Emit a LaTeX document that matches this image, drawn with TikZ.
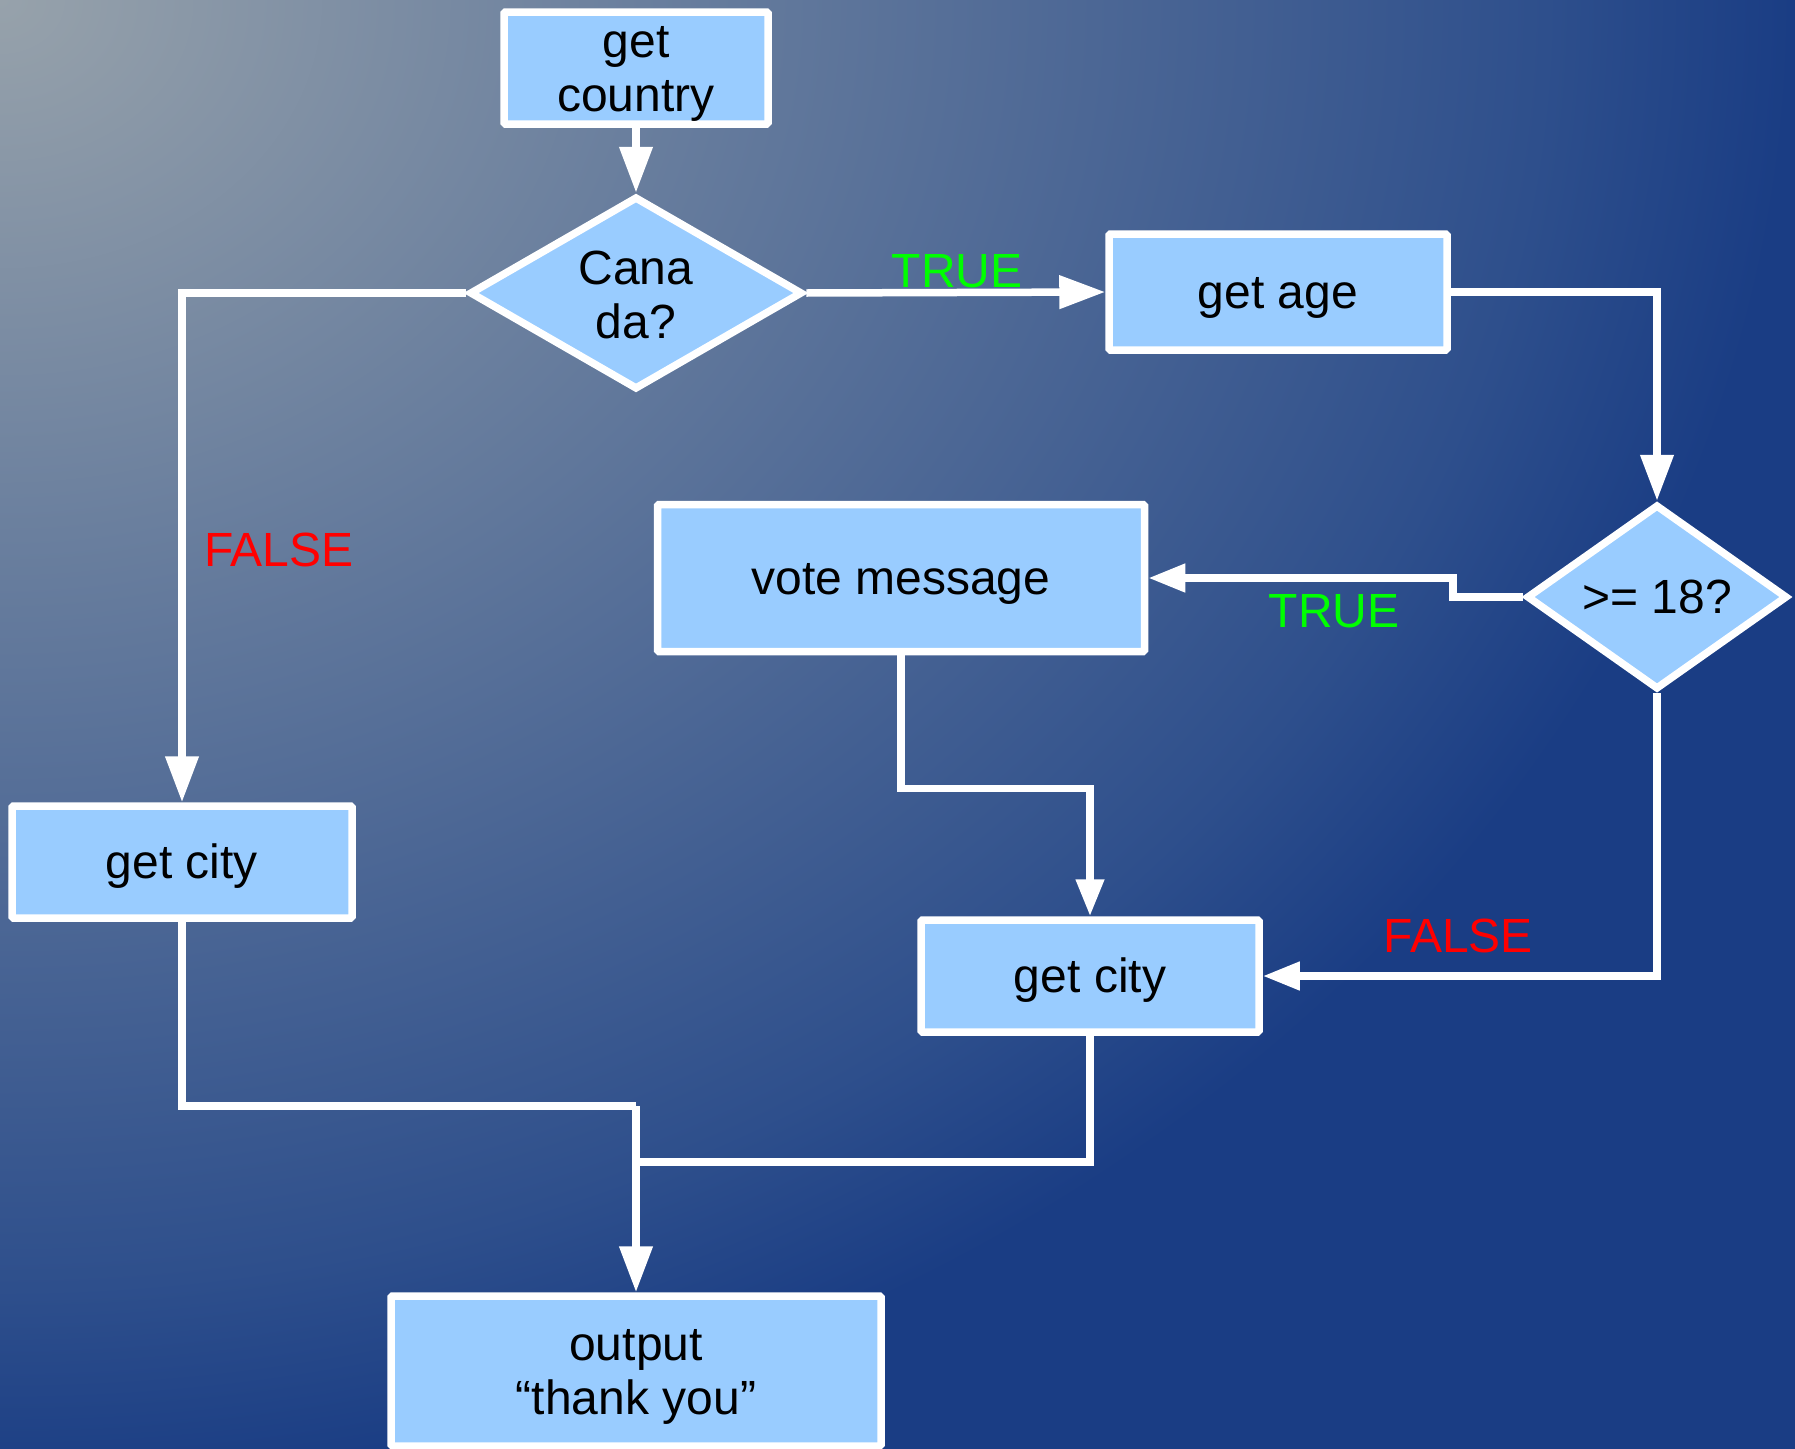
\documentclass[tikz,border=0pt]{standalone}
\usepackage{fontspec}
\setmainfont{Liberation Sans}
\usetikzlibrary{shapes.geometric,arrows.meta}
\definecolor{bgA}{HTML}{97A2AB}
\definecolor{bgB}{HTML}{6A7F9E}
\definecolor{bgC}{HTML}{2E4F8C}
\definecolor{bgD}{HTML}{1A3D84}
\definecolor{boxfill}{HTML}{99CCFF}
\definecolor{truegreen}{HTML}{00FF00}
\definecolor{falsered}{HTML}{FF0000}
\pgfdeclareradialshading{bgshade}{\pgfpoint{0bp}{0bp}}{color(0bp)=(bgA); color(5.74bp)=(bgB); color(13.8bp)=(bgC); color(16bp)=(bgD); color(25bp)=(bgD); color(50bp)=(bgD)}
\newcommand{\btxt}[1]{\raisebox{-6pt}[\height][\depth]{\begin{tabular}{@{}c@{}}#1\end{tabular}}}
\tikzset{
  box/.style={draw=white, fill=boxfill, line width=7.5pt, rounded corners=1.5pt, inner sep=0pt, font=\fontsize{48}{54}\selectfont, text=black},
  dia/.style={draw=white, fill=boxfill, line width=7.5pt, diamond, inner sep=0pt},
  txt/.style={inner sep=0pt, align=center, font=\fontsize{48}{54}\selectfont, text=black},
  lbl/.style={inner sep=0pt, anchor=base, font=\fontsize{48}{54}\selectfont},
  conn/.style={draw=white, line width=7.5pt},
  bigarrow/.style={conn, -{Triangle[length=46pt,width=32pt]}},
  smallarrow/.style={conn, -{Triangle[length=37pt,width=27pt]}}
}
\begin{document}
\begin{tikzpicture}[x=1pt,y=-1pt]
\useasboundingbox (0,0) rectangle (1795,1448);
\begin{scope}
\clip (0,0) rectangle (1795,1448);
\shade[shading=bgshade] (0,0) ellipse (2800 and 2333);
\end{scope}
% nodes
\node[box, minimum width=264pt, minimum height=112pt] (country) at (636,68) {\btxt{get\\country}};
\node[dia, minimum width=333pt, minimum height=193pt] (canada) at (636,293) {};
\node[txt] (canadaT) at (636,295) {Cana\\da?};
\node[box, minimum width=338pt, minimum height=116pt] (getage) at (1278,292) {\btxt{get age}};
\node[dia, minimum width=261pt, minimum height=185pt] (gt18) at (1657,597) {};
\node[txt] (gt18T) at (1657,597) {>= 18?};
\node[box, minimum width=487pt, minimum height=147pt] (vote) at (901,578) {\btxt{vote message}};
\node[box, minimum width=340pt, minimum height=112pt] (cityL) at (182,862) {\btxt{get city}};
\node[box, minimum width=338pt, minimum height=112pt] (cityR) at (1090,976) {\btxt{get city}};
\node[box, minimum width=490pt, minimum height=150pt] (output) at (636,1371) {\btxt{output\\“thank you”}};
\coordinate (m1) at (636,1106);
\coordinate (m2) at (636,1162);
% connectors
\draw[bigarrow] (country.south) -- (canada.north);
\draw[bigarrow] (canada.east) -- (getage.west);
\draw[bigarrow] (getage.east) -| (gt18.north);
\draw[smallarrow] (gt18.west) -- ++(-70,0) |- (vote.east);
\draw[smallarrow] (gt18.south) |- (cityR.east);
\draw[bigarrow] (canada.west) -| (cityL.north);
\draw[smallarrow] (vote.south) -- ++(0,133) -| (cityR.north);
\draw[conn] (cityL.south) |- (m1);
\draw[bigarrow] (m1) -- (output.north);
\draw[conn] (cityR.south) |- (m2);
% labels
\node[lbl, text=truegreen] (t1) at (957,287) {TRUE};
\node[lbl, text=truegreen] (t2) at (1334,627) {TRUE};
\node[lbl, text=falsered] (f1) at (279,566) {FALSE};
\node[lbl, text=falsered] (f2) at (1458,952) {FALSE};
\end{tikzpicture}
\end{document}
